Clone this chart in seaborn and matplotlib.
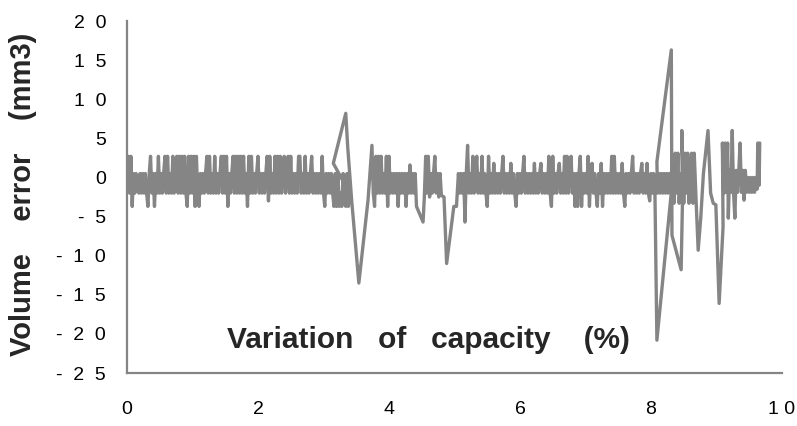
import matplotlib
matplotlib.use("Agg")
import matplotlib.pyplot as plt
import seaborn as sns
import pandas as pd

# ---------------- data ----------------
# segment A: dense noise 0 - 3.4
x_a = [0.00, 0.02, 0.04, 0.06, 0.08, 0.10, 0.12, 0.14, 0.16, 0.18,
       0.20, 0.22, 0.24, 0.26, 0.28, 0.30, 0.32, 0.34, 0.36, 0.38,
       0.40, 0.42, 0.44, 0.46, 0.48, 0.50, 0.52, 0.54, 0.56, 0.58,
       0.60, 0.62, 0.64, 0.66, 0.68, 0.70, 0.72, 0.74, 0.76, 0.78,
       0.80, 0.82, 0.84, 0.86, 0.88, 0.90, 0.92, 0.94, 0.96, 0.98,
       1.00, 1.02, 1.04, 1.06, 1.08, 1.10, 1.12, 1.14, 1.16, 1.18,
       1.20, 1.22, 1.24, 1.26, 1.28, 1.30, 1.32, 1.34, 1.36, 1.38,
       1.40, 1.42, 1.44, 1.46, 1.48, 1.50, 1.52, 1.54, 1.56, 1.58,
       1.60, 1.62, 1.64, 1.66, 1.68, 1.70, 1.72, 1.74, 1.76, 1.78,
       1.80, 1.82, 1.84, 1.86, 1.88, 1.90, 1.92, 1.94, 1.96, 1.98,
       2.00, 2.02, 2.04, 2.06, 2.08, 2.10, 2.12, 2.14, 2.16, 2.18,
       2.20, 2.22, 2.24, 2.26, 2.28, 2.30, 2.32, 2.34, 2.36, 2.38,
       2.40, 2.42, 2.44, 2.46, 2.48, 2.50, 2.52, 2.54, 2.56, 2.58,
       2.60, 2.62, 2.64, 2.66, 2.68, 2.70, 2.72, 2.74, 2.76, 2.78,
       2.80, 2.82, 2.84, 2.86, 2.88, 2.90, 2.92, 2.94, 2.96, 2.98,
       3.00, 3.02, 3.04, 3.06, 3.08, 3.10, 3.12, 3.14, 3.16, 3.18,
       3.20, 3.22, 3.24, 3.26, 3.28, 3.30, 3.32, 3.34, 3.36, 3.38,
       3.40]
y_a = [0.5, 2.7, -2.0, 2.7, -3.7, 0.5, -2.0, 0.5, -0.8, -2.0,
       0.5, -2.0, 0.5, -2.0, 0.5, -2.0, -3.7, 0.5, 2.7, -2.0,
       0.5, -3.7, 0.5, -2.0, 2.7, -2.0, 0.5, -2.0, 0.5, 2.7,
       -2.0, 2.7, -2.0, 0.5, -2.0, 2.7, -2.0, 0.5, 2.7, -2.0,
       2.7, -2.0, 2.7, -2.0, 2.7, -2.0, -3.7, 2.7, -2.0, 2.7,
       -2.0, 2.7, -3.7, 2.7, -2.0, -3.7, 0.5, -2.0, 0.5, -2.0,
       0.5, 2.7, -2.0, 2.7, -2.0, 0.5, -2.0, 2.7, -2.0, 0.5,
       -2.0, 0.5, 2.7, -2.0, 2.7, -2.0, 2.7, -3.7, 0.5, -2.0,
       0.5, 2.7, -2.0, 2.7, -2.0, 2.7, -2.0, 2.7, -2.0, 2.7,
       -2.0, 0.5, -3.7, 2.7, -2.0, 2.7, -2.0, 0.5, -2.0, 0.5,
       2.7, -2.0, 0.5, -2.0, 0.5, -2.0, 0.5, 2.7, -3.0, 2.7,
       -2.0, 0.5, -2.0, 2.7, -2.0, 2.7, -2.0, 2.7, -2.0, 0.5,
       2.7, -2.0, 0.5, 2.7, -2.0, 2.7, -2.0, 0.5, -2.0, 0.5,
       -2.0, 2.7, 2.7, -2.0, 0.5, -2.0, 2.7, -2.0, 0.5, -2.0,
       0.5, 2.7, -2.0, 0.5, -2.0, 0.5, -2.0, 0.5, -2.0, 2.7,
       -2.0, -3.7, 0.5, -2.0, 0.5, -2.0, 0.5, -2.0, -3.7, 0.5,
       -3.7, 0.5, -3.7, -2.0, -3.7, 0.5, -2.0, -3.7, 0.5, -3.7,
       -2.0]

# first excursion (+8 / -13.5)
x_p1 = [3.15, 3.34, 3.37, 3.43, 3.54, 3.68]
y_p1 = [1.8, 8.2, 3.9, -2.9, -13.5, -2.9]

# segment B: dense noise 3.74 - 4.42
x_b = [3.74, 3.76, 3.78, 3.80, 3.82, 3.84, 3.86, 3.88, 3.90, 3.92,
       3.94, 3.96, 3.98, 4.00, 4.02, 4.04, 4.06, 4.08, 4.10, 4.12,
       4.14, 4.16, 4.18, 4.20, 4.22, 4.24, 4.26, 4.28, 4.30, 4.32,
       4.34, 4.36, 4.38, 4.40, 4.42]
y_b = [4.1, -2.0, -3.7, 2.7, -2.0, 2.7, -2.0, 2.7, -2.0, 0.5,
       -2.0, 2.7, -3.7, 2.7, -2.0, 0.5, -2.0, 0.5, -2.0, 0.5,
       -3.7, 0.5, -2.0, 0.5, -2.0, 0.5, -3.7, 0.5, -2.0, 1.6,
       -2.0, 0.5, -2.0, 0.5, -3.7]

# segment B2: 4.52 - 5.06 (incl. -5.7 and -11 dips)
x_b2 = [4.52, 4.54, 4.56, 4.58, 4.60, 4.62, 4.64, 4.66, 4.68, 4.70,
        4.72, 4.74, 4.76, 4.78, 4.80, 4.84, 4.88, 4.99, 5.03, 5.06]
y_b2 = [-5.7, -2.5, 2.7, -2.0, 2.7, -2.5, 0.5, -2.0, 0.5, 2.7,
        -2.0, 0.5, -2.5, 0.5, -2.3, -2.5, -11.0, -3.7, -3.7, 0.5]

# segment C: dense noise 5.08 - 8.06
x_c = [5.08, 5.10, 5.12, 5.14, 5.16, 5.18, 5.20, 5.22, 5.24, 5.26,
       5.28, 5.30, 5.32, 5.34, 5.36, 5.38, 5.40, 5.42, 5.44, 5.46,
       5.48, 5.50, 5.52, 5.54, 5.56, 5.58, 5.60, 5.62, 5.64, 5.66,
       5.68, 5.70, 5.72, 5.74, 5.76, 5.78, 5.80, 5.82, 5.84, 5.86,
       5.88, 5.90, 5.92, 5.94, 5.96, 5.98, 6.00, 6.02, 6.04, 6.06,
       6.08, 6.10, 6.12, 6.14, 6.16, 6.18, 6.20, 6.22, 6.24, 6.26,
       6.28, 6.30, 6.32, 6.34, 6.36, 6.38, 6.40, 6.42, 6.44, 6.46,
       6.48, 6.50, 6.52, 6.54, 6.56, 6.58, 6.60, 6.62, 6.64, 6.66,
       6.68, 6.70, 6.72, 6.74, 6.76, 6.78, 6.80, 6.82, 6.84, 6.86,
       6.88, 6.90, 6.92, 6.94, 6.96, 6.98, 7.00, 7.02, 7.04, 7.06,
       7.08, 7.10, 7.12, 7.14, 7.16, 7.18, 7.20, 7.22, 7.24, 7.26,
       7.28, 7.30, 7.32, 7.34, 7.36, 7.38, 7.40, 7.42, 7.44, 7.46,
       7.48, 7.50, 7.52, 7.54, 7.56, 7.58, 7.60, 7.62, 7.64, 7.66,
       7.68, 7.70, 7.72, 7.74, 7.76, 7.78, 7.80, 7.82, 7.84, 7.86,
       7.88, 7.90, 7.92, 7.94, 7.96, 7.98, 8.00, 8.02, 8.04, 8.06]
y_c = [-2.0, 0.5, -2.0, 0.5, -5.7, 0.5, 4.1, -2.0, 0.5, -2.0,
       2.7, -2.0, 0.5, 2.7, -2.0, 0.5, -2.0, 2.7, -2.0, 0.5,
       -2.0, -3.7, 2.7, -2.0, 0.5, -2.0, 1.8, -2.0, 0.5, -2.0,
       0.5, -2.0, 0.5, 2.7, -2.0, 0.5, -2.0, 0.5, -2.0, 1.8,
       -2.0, 0.5, -2.0, -3.7, 0.5, -2.0, 0.5, -2.0, 0.5, 2.7,
       -2.0, 0.5, -2.0, 0.5, -2.0, 0.5, -2.0, 1.8, -2.0, 0.5,
       -2.0, 0.5, 1.8, -2.0, 0.5, -2.0, 0.5, -2.0, 2.7, -2.0,
       -3.7, 2.7, -2.0, 0.5, -2.0, 0.5, 1.8, -2.0, 0.5, -2.0,
       2.7, -2.0, 2.7, -2.0, 0.5, 2.7, -2.0, 0.5, -3.7, 0.5,
       -3.7, 0.5, 2.7, -3.7, 0.5, -2.0, 0.5, -2.0, 2.7, -3.7,
       0.5, 1.8, -2.0, 0.5, -2.0, -3.7, 0.5, -2.0, 1.8, -3.7,
       0.5, -2.0, 0.5, -2.0, 0.5, -2.0, 2.7, -2.0, 2.7, -2.0,
       0.5, -2.0, 0.5, -2.0, 1.8, -2.0, -3.7, 0.5, -2.0, 0.5,
       -2.0, 0.5, 2.7, -2.0, 0.5, -2.0, 0.5, -2.0, 0.5, 1.8,
       -2.0, 0.5, -2.0, 1.8, -2.0, -3.0, 0.5, -2.0, 0.5, -2.0]

# big excursion around 8.1 - 9.1 (+16 / -21 / -16)
x_p2 = [8.09, 8.31, 8.33, 8.35, 8.37, 8.39, 8.41, 8.43, 8.45, 8.28,
        8.26, 8.24, 8.22, 8.20, 8.18, 8.16, 8.14, 8.12, 8.10, 8.09,
        8.31, 8.32, 8.46, 8.48, 8.47, 8.50, 8.52, 8.54, 8.56, 8.58,
        8.60, 8.62, 8.64, 8.66, 8.69, 8.72, 8.76, 8.80, 8.87, 8.91,
        8.95, 8.99, 9.04, 9.10]
y_p2 = [-20.8, -1.9, 2.7, -3.3, 3.1, -2.0, 3.1, -3.3, 0.5, 0.5,
        -2.0, 0.5, -2.0, 0.5, -2.0, 0.5, -2.0, 0.5, -2.0, 2.0,
        16.3, -7.4, -11.8, -3.2, 6.0, -3.3, 3.1, -2.0, 3.1, -3.3,
        0.5, 3.1, -3.3, 3.1, -3.3, -9.3, -5.1, 0.5, 6.0, -2.0,
        -3.3, -3.5, -16.1, -6.3]

# segment D: last dense block 9.09 - 9.66
x_d = [9.09, 9.11, 9.13, 9.15, 9.17, 9.18, 9.20, 9.22, 9.24, 9.26,
       9.28, 9.30, 9.32, 9.34, 9.36, 9.38, 9.40, 9.42, 9.44, 9.46,
       9.48, 9.50, 9.52, 9.54, 9.56, 9.58, 9.60, 9.62, 9.63, 9.65, 9.66]
y_d = [4.4, -2.0, 4.4, -1.9, 4.4, -5.2, 0.9, -1.9, 6.0, -1.9,
       -5.2, 0.9, -1.9, 0.9, 4.4, -1.9, 0.9, -2.9, 0.9, -1.9,
       0.0, -1.9, 0.0, -1.9, 0.0, -1.9, 0.0, -1.5, 4.4, -1.0, 4.4]

y_ticks = [-25, -20, -15, -10, -5, 0, 5, 10, 15, 20]
y_tick_labels = ["-  2  5", "-  2  0", "-  1  5", "-  1  0", "-  5", "0", "5",
                 "1  0", "1  5", "2  0"]
x_ticks = [0, 2, 4, 6, 8, 10]
x_tick_labels = ["0", "2", "4", "6", "8", "1 0"]

xs = x_a + x_p1 + x_b + x_b2 + x_c + x_p2 + x_d
ys = y_a + y_p1 + y_b + y_b2 + y_c + y_p2 + y_d
df = pd.DataFrame({"capacity": xs, "error": ys})

# ---------------- plot ----------------
sns.set_style("white")
plt.rcParams["font.family"] = ["Liberation Sans", "DejaVu Sans"]

fig = plt.figure(figsize=(7.97, 4.26), dpi=100)
ax = fig.add_axes([0.1593, 0.1244, 0.8219, 0.8263])

GRAY = "#858585"
sns.lineplot(data=df, x="capacity", y="error", sort=False, estimator=None,
             color=GRAY, linewidth=2.4, ax=ax)

ax.set_xlim(0, 10)
ax.set_ylim(-25, 20)
for s in ["top", "right"]:
    ax.spines[s].set_visible(False)
for s in ["left", "bottom"]:
    ax.spines[s].set_color(GRAY)
    ax.spines[s].set_linewidth(1.6)

ax.set_yticks(y_ticks)
ax.set_yticklabels(y_tick_labels)
ax.set_xticks(x_ticks)
ax.set_xticklabels(x_tick_labels)
ax.tick_params(axis="both", direction="inout", length=12, width=1.6,
               color=GRAY, labelsize=14, labelcolor="black")
ax.tick_params(axis="y", pad=9)
ax.tick_params(axis="x", pad=14)

ax.set_xlabel("Variation   of   capacity    (%)", fontsize=21.5, fontweight="bold")
ax.xaxis.set_label_coords(0.460, 0.071)
ax.xaxis.label.set_va("baseline")
ax.set_ylabel("Volume    error    (mm3)", fontsize=21, fontweight="bold")
ax.yaxis.set_label_coords(-0.159, 0.508)
ax.yaxis.label.set_va("center")

fig.savefig("out.png", dpi=100)
